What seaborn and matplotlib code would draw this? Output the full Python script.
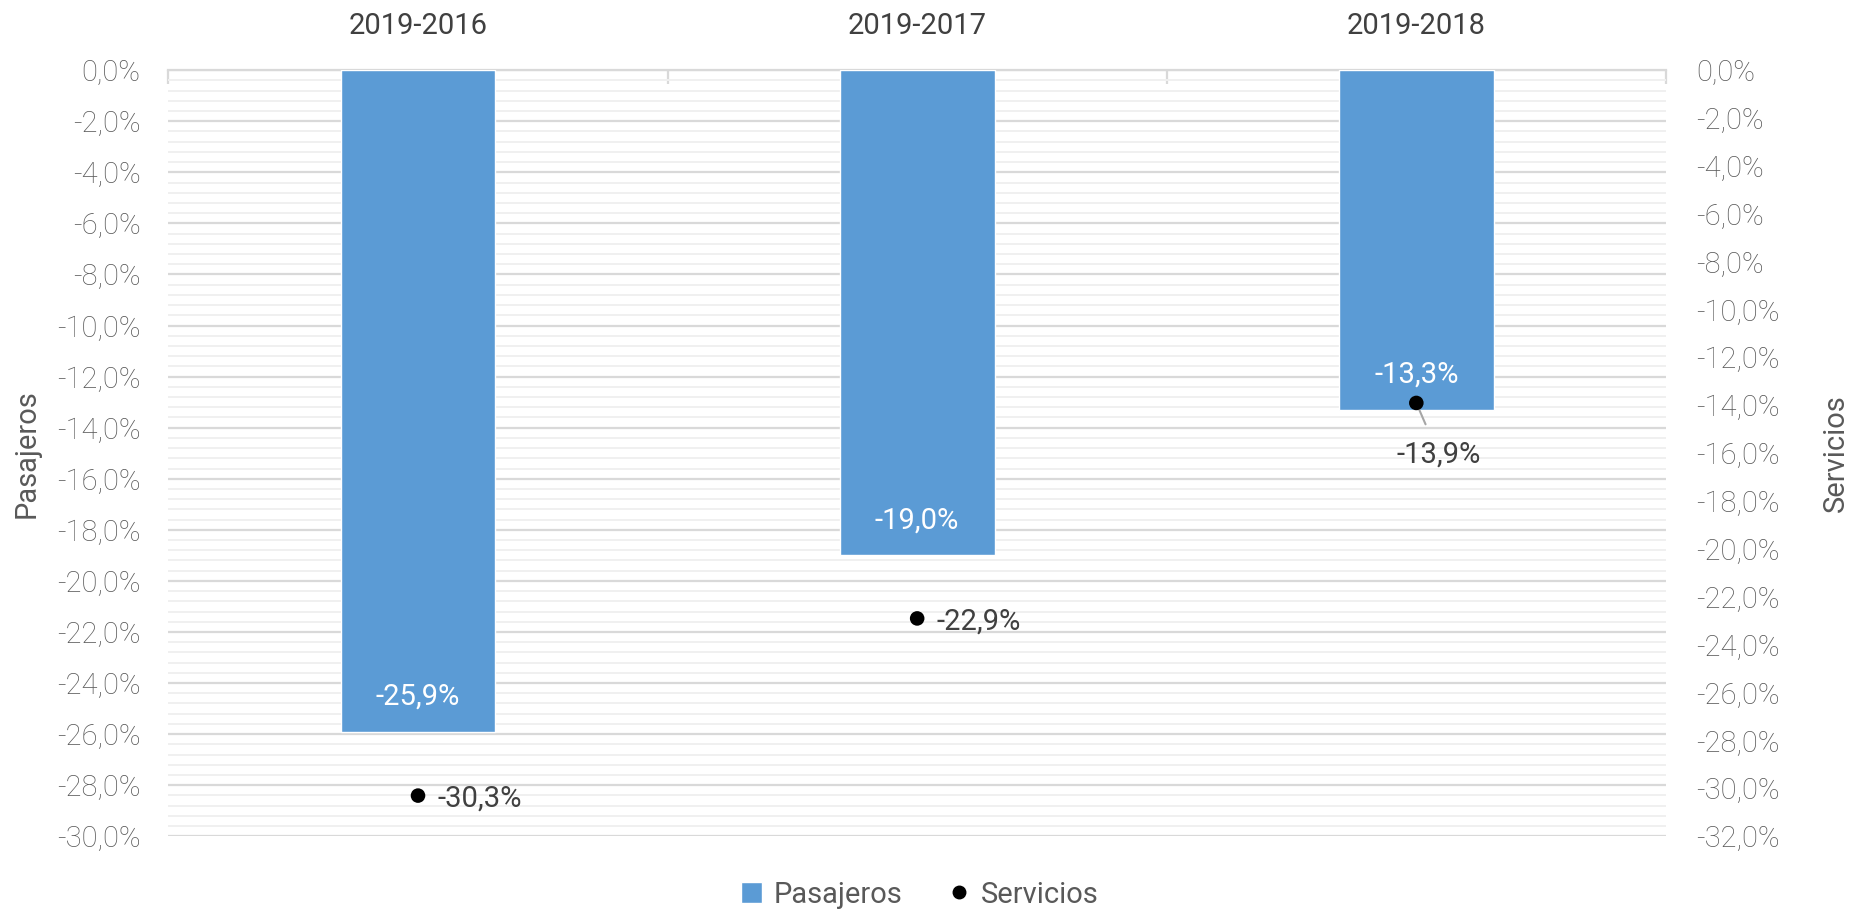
import matplotlib
matplotlib.use("Agg")
import matplotlib.pyplot as plt
import seaborn as sns
import pandas as pd
from matplotlib.ticker import MultipleLocator, FuncFormatter
from matplotlib.lines import Line2D
from matplotlib.patches import Patch

# --- data ---
periodos = ["2019-2016", "2019-2017", "2019-2018"]
pasajeros = [-25.9, -19.0, -13.3]
servicios = [-30.3, -22.9, -13.9]

df = pd.DataFrame({"periodo": periodos, "pasajeros": pasajeros, "servicios": servicios})

sns.set_theme(style="white")
plt.rcParams["font.family"] = ["Roboto", "DejaVu Sans"]

BLUE = "#5B9BD5"
TICK_C = "#595959"
LABEL_C = "#404040"
FS = 21


def pct(v, pos=None):
    return f"{v:.1f}%".replace(".", ",")


fig, ax = plt.subplots(figsize=(18.51, 9.11), dpi=100)
fig.subplots_adjust(left=0.091, right=0.9, top=0.923, bottom=0.082)

sns.barplot(data=df, x="periodo", y="pasajeros", color=BLUE, width=0.31,
            saturation=1, ax=ax, zorder=3)
ax.set_xlim(-0.5, 2.5)
ax.set_ylim(-30, 0)

ax2 = ax.twinx()
sns.scatterplot(x=range(len(periodos)), y=df["servicios"], color="black", s=110,
                edgecolor="none", ax=ax2, zorder=4)
ax2.set_ylim(-32, 0)

# grid
ax.yaxis.set_major_locator(MultipleLocator(2))
ax.yaxis.set_minor_locator(MultipleLocator(0.4))
ax.grid(which="minor", axis="y", color="#f0f0f0", lw=1.4, zorder=0)
ax.grid(which="major", axis="y", color="#d9d9d9", lw=1.6, zorder=1)
ax.grid(axis="x", visible=False)
ax2.yaxis.set_major_locator(MultipleLocator(2))
ax2.grid(False)

for a in (ax, ax2):
    for s in a.spines.values():
        s.set_visible(False)
ax.spines["top"].set_visible(True)
ax.spines["top"].set_color("#d9d9d9")
ax.spines["top"].set_linewidth(1.6)

ax.yaxis.set_major_formatter(FuncFormatter(pct))
ax2.yaxis.set_major_formatter(FuncFormatter(pct))
ax.tick_params(axis="y", which="both", length=0, labelsize=FS, labelcolor=TICK_C, pad=20)
ax2.tick_params(axis="y", which="both", length=0, labelsize=FS, labelcolor=TICK_C, pad=22)
for lab in ax.get_yticklabels() + ax2.get_yticklabels():
    lab.set_fontweight("light")

# category labels on top
ax.xaxis.tick_top()
ax.set_xlabel("")
ax.tick_params(axis="x", which="major", length=0, labelsize=FS, labelcolor=LABEL_C, pad=22)
ax.set_xticks([-0.5, 0.5, 1.5, 2.5], minor=True)
ax.tick_params(axis="x", which="minor", direction="in", length=10, width=1.6,
               color="#d9d9d9", top=True, bottom=False)

ax.set_ylabel("Pasajeros", fontsize=FS, color=TICK_C, labelpad=12)
ax2.set_ylabel("Servicios", fontsize=FS, color=TICK_C, labelpad=30)
ax2.set_xlabel("")

# data labels
for i, v in enumerate(pasajeros):
    ax.annotate(pct(v), xy=(i, v), xytext=(0, 25), textcoords="offset points",
                ha="center", va="center", color="white", fontsize=FS, zorder=5)

for i, v in enumerate(servicios):
    if i == 2:
        ax2.annotate(pct(v), xy=(i, v), xytext=(16, -37), textcoords="offset points",
                     ha="center", va="center", color=LABEL_C, fontsize=FS,
                     arrowprops=dict(arrowstyle="-", color="#a6a6a6", lw=1.5,
                                     shrinkA=10, shrinkB=0))
    else:
        ax2.annotate(pct(v), xy=(i, v), xytext=(14, -2), textcoords="offset points",
                     ha="left", va="center", color=LABEL_C, fontsize=FS)

handles = [Patch(facecolor=BLUE, label="Pasajeros"),
           Line2D([], [], marker="o", color="black", ls="none", markersize=9, label="Servicios")]
leg = fig.legend(handles=handles, loc="center", bbox_to_anchor=(0.497, 0.018), ncol=2,
                 frameon=False, fontsize=FS, handlelength=0.7, handleheight=0.7,
                 handletextpad=0.4, columnspacing=1.6)
for t in leg.get_texts():
    t.set_color(TICK_C)

fig.savefig("out.png", dpi=100)
